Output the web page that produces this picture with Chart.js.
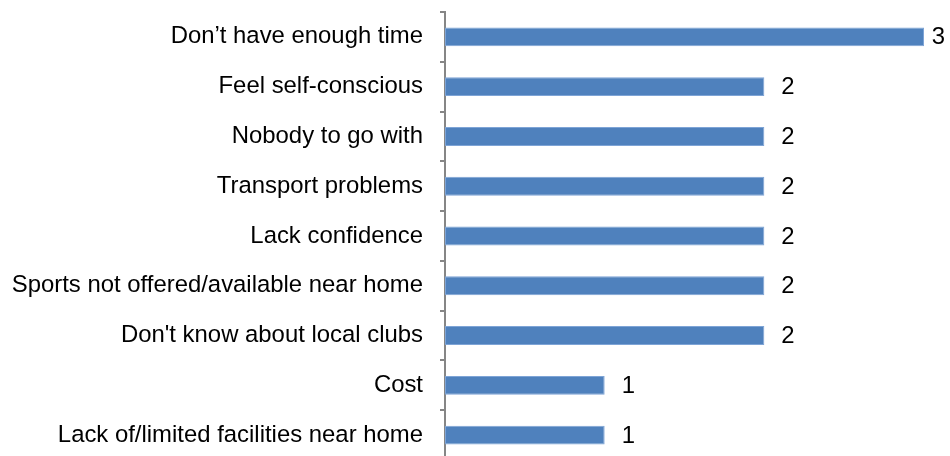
<!DOCTYPE html>
<html>
<head>
<meta charset="utf-8">
<style>
  html, body { margin: 0; padding: 0; background: #fff; overflow: hidden; }
  #wrap { width: 950px; height: 456px; overflow: hidden; }
  canvas { display: block; }
</style>
<script src="https://cdn.jsdelivr.net/npm/chart.js@4"></script>
</head>
<body>
<div id="wrap"><canvas id="c" width="950" height="470"></canvas></div>
<script>
const categories = [
  "Don\u2019t have enough time",
  "Feel self-conscious",
  "Nobody to go with",
  "Transport problems",
  "Lack confidence",
  "Sports not offered/available near home",
  "Don't know about local clubs",
  "Cost",
  "Lack of/limited facilities near home"
];
const values = [3, 2, 2, 2, 2, 2, 2, 1, 1];

const FONT = "'Liberation Sans', Arial, sans-serif";
const FONT_SIZE = 23.9;

// writes each bar's value just past its end, kept inside the canvas
const valueLabels = {
  id: 'valueLabels',
  afterDatasetsDraw(chart) {
    const ctx = chart.ctx;
    const meta = chart.getDatasetMeta(0);
    ctx.save();
    ctx.font = FONT_SIZE + "px " + FONT;
    ctx.fillStyle = "#000";
    ctx.textAlign = "left";
    ctx.textBaseline = "middle";
    meta.data.forEach((bar, i) => {
      const txt = String(values[i]);
      const w = ctx.measureText(txt).width;
      const x = Math.min(bar.x + 17, chart.width - w - 5);
      ctx.fillText(txt, x, bar.y + 1);
    });
    ctx.restore();
  }
};

new Chart(document.getElementById('c'), {
  type: 'bar',
  data: {
    labels: categories,
    datasets: [{
      data: values,
      backgroundColor: '#4f81bd',
      borderColor: '#7ea4d6',
      borderWidth: 1,
      borderSkipped: false,
      barPercentage: 0.38,
      categoryPercentage: 1
    }]
  },
  options: {
    indexAxis: 'y',
    responsive: false,
    animation: false,
    layout: { padding: { top: 12, bottom: 10, left: 0, right: 26 } },
    plugins: { legend: { display: false }, tooltip: { enabled: false } },
    scales: {
      x: { display: false, min: 0, max: 3 },
      y: {
        afterFit(scale) {
          scale.width = 445;
          scale.paddingTop = 0;
          scale.paddingBottom = 0;
        },
        border: { display: true, color: '#868686', width: 2 },
        grid: { drawOnChartArea: false, drawTicks: true, tickLength: 5, color: '#868686', lineWidth: 2, offset: true },
        ticks: { color: '#000', padding: 17, font: { family: FONT, size: FONT_SIZE } }
      }
    }
  },
  plugins: [valueLabels]
});
</script>
</body>
</html>
